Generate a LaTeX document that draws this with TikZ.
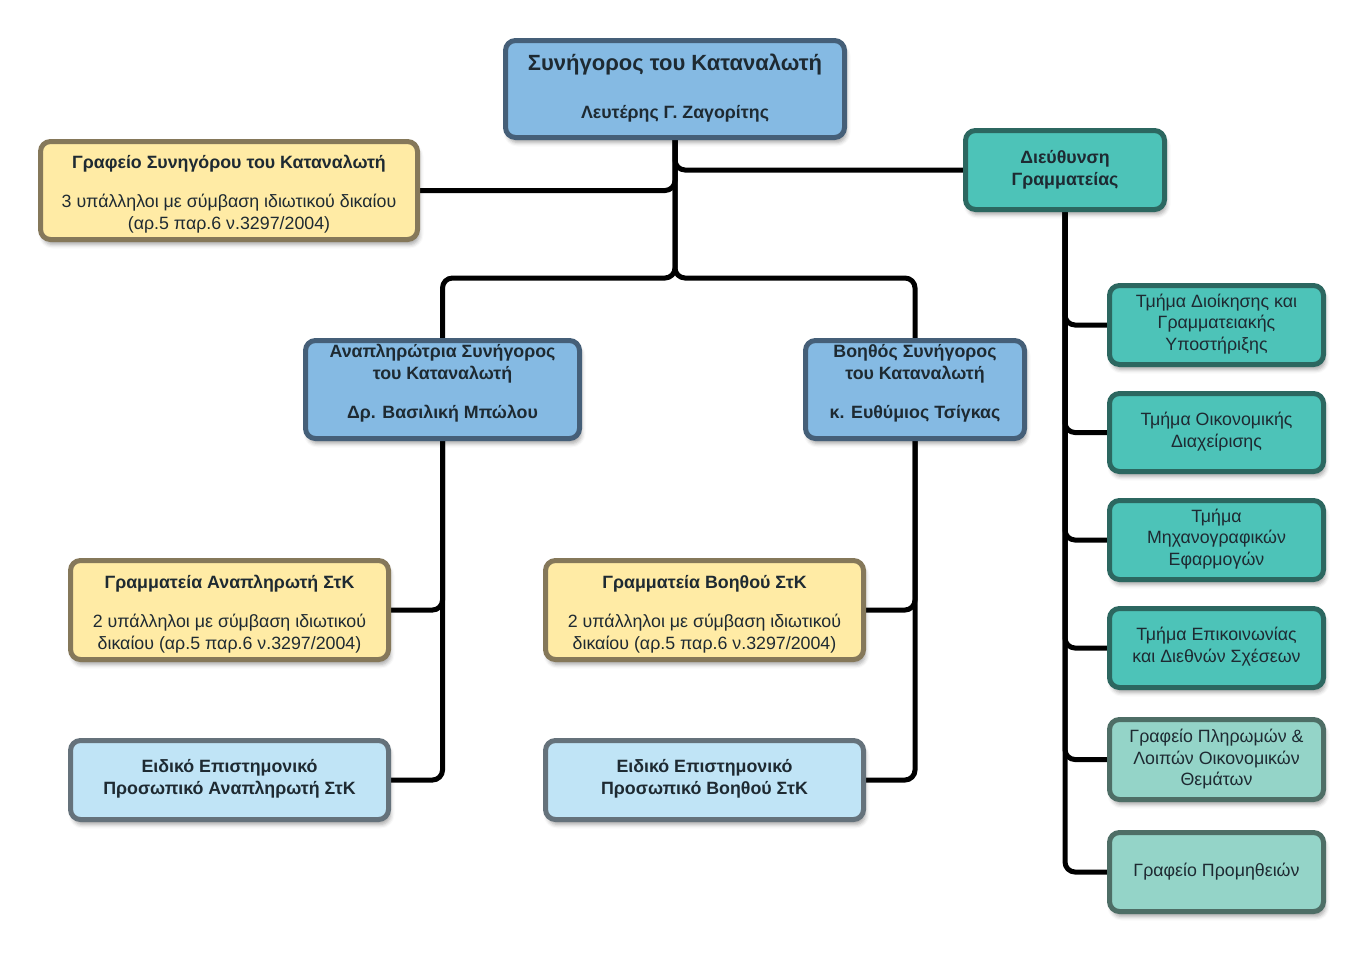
\documentclass[tikz,border=0pt]{standalone}
\usepackage{fontspec}
\setmainfont{Liberation Sans}
\usetikzlibrary{shadows.blur}
\pgfdeclarelayer{bg}
\pgfsetlayers{bg,main}
\definecolor{bluefill}{HTML}{85BAE3}
\definecolor{blueline}{HTML}{455F78}
\definecolor{yelfill}{HTML}{FFEBA5}
\definecolor{yelline}{HTML}{85785A}
\definecolor{tealfill}{HTML}{4DC3B8}
\definecolor{tealline}{HTML}{2C6760}
\definecolor{ltealfill}{HTML}{94D4C8}
\definecolor{ltealline}{HTML}{4E6E66}
\definecolor{lbluefill}{HTML}{C0E4F6}
\definecolor{lblueline}{HTML}{65727B}
\definecolor{txtcol}{HTML}{1E2A32}
\begin{document}
\begin{tikzpicture}[x=1pt,y=-1pt,
  box/.style={line width=5pt, rounded corners=10pt, inner sep=0pt,
    blur shadow={shadow xshift=2pt, shadow yshift=-5pt, shadow blur radius=4pt, shadow opacity=35}},
  bluebox/.style={box, draw=blueline, fill=bluefill},
  yelbox/.style={box, draw=yelline, fill=yelfill},
  tealbox/.style={box, draw=tealline, fill=tealfill},
  ltealbox/.style={box, draw=ltealline, fill=ltealfill},
  lbluebox/.style={box, draw=lblueline, fill=lbluefill},
  txt/.style={align=center, text=txtcol, inner sep=0pt, font=\fontsize{17.8}{21.8}\selectfont},
  btxt/.style={txt, font=\fontsize{17.8}{21.8}\selectfont\bfseries},
  conn/.style={line width=5pt, draw=black, rounded corners=10pt}
]
\useasboundingbox (0,0) rectangle (1365,953);
% boxes
\node[bluebox, minimum width=339pt, minimum height=97pt] (top) at (675,89) {};
\node[yelbox, minimum width=377pt, minimum height=98pt] (graf) at (229,190.5) {};
\node[tealbox, minimum width=199pt, minimum height=79pt] (dieu) at (1065,170) {};
\node[bluebox, minimum width=274pt, minimum height=98pt] (ana) at (442.5,389.5) {};
\node[bluebox, minimum width=219pt, minimum height=98pt] (voi) at (915,389.5) {};
\node[yelbox, minimum width=318pt, minimum height=99pt] (gA) at (229.5,610) {};
\node[yelbox, minimum width=318pt, minimum height=99pt] (gV) at (704.5,610) {};
\node[lbluebox, minimum width=318pt, minimum height=79pt] (eA) at (229.5,780) {};
\node[lbluebox, minimum width=318pt, minimum height=79pt] (eV) at (704.5,780) {};
\node[tealbox, minimum width=214pt, minimum height=79pt] (r1) at (1216.5,325) {};
\node[tealbox, minimum width=214pt, minimum height=78pt] (r2) at (1216.5,432.5) {};
\node[tealbox, minimum width=214pt, minimum height=79pt] (r3) at (1216.5,540) {};
\node[tealbox, minimum width=214pt, minimum height=79pt] (r4) at (1216.5,648) {};
\node[ltealbox, minimum width=214pt, minimum height=80pt] (r5) at (1216.5,759.5) {};
\node[ltealbox, minimum width=214pt, minimum height=79pt] (r6) at (1216.5,872) {};
% texts
\node[txt] (ttop) at (675,88) {\fontsize{22}{26}\selectfont\bfseries Συνήγορος του Καταναλωτή\\[26pt]\fontsize{17.8}{21.8}\selectfont\bfseries Λευτέρης Γ. Ζαγορίτης};
\node[txt] (tgraf) at (229,194) {\bfseries Γραφείο Συνηγόρου του Καταναλωτή\\[17pt]3 υπάλληλοι με σύμβαση ιδιωτικού δικαίου\\(αρ.5 παρ.6 ν.3297/2004)};
\node[btxt] (tdieu) at (1065,169.5) {Διεύθυνση\\Γραμματείας};
\node[btxt] (tana) at (442.5,383) {Αναπληρώτρια Συνήγορος\\του Καταναλωτή\\[17pt]Δρ. Βασιλική Μπώλου};
\node[btxt] (tvoi) at (915,383) {Βοηθός Συνήγορος\\του Καταναλωτή\\[17pt]κ. Ευθύμιος Τσίγκας};
\node[txt] (tgA) at (229.5,614) {\bfseries Γραμματεία Αναπληρωτή ΣτΚ\\[17pt]2 υπάλληλοι με σύμβαση ιδιωτικού\\δικαίου (αρ.5 παρ.6 ν.3297/2004)};
\node[txt] (tgV) at (704.5,614) {\bfseries Γραμματεία Βοηθού ΣτΚ\\[17pt]2 υπάλληλοι με σύμβαση ιδιωτικού\\δικαίου (αρ.5 παρ.6 ν.3297/2004)};
\node[btxt] (teA) at (229.5,779) {Ειδικό Επιστημονικό\\Προσωπικό Αναπληρωτή ΣτΚ};
\node[btxt] (teV) at (704.5,779) {Ειδικό Επιστημονικό\\Προσωπικό Βοηθού ΣτΚ};
\node[txt] (tr1) at (1216.5,324) {Τμήμα Διοίκησης και\\Γραμματειακής\\Υποστήριξης};
\node[txt] (tr2) at (1216.5,431.5) {Τμήμα Οικονομικής\\Διαχείρισης};
\node[txt] (tr3) at (1216.5,539) {Τμήμα\\Μηχανογραφικών\\Εφαρμογών};
\node[txt] (tr4) at (1216.5,646.5) {Τμήμα Επικοινωνίας\\και Διεθνών Σχέσεων};
\node[txt] (tr5) at (1216.5,759) {Γραφείο Πληρωμών \&\\Λοιπών Οικονομικών\\Θεμάτων};
\node[txt] (tr6) at (1216.5,871.5) {Γραφείο Προμηθειών};
% connectors
\begin{pgfonlayer}{bg}
\coordinate (j1) at (675,278);
\draw[conn] (top.south) -- (j1) -| (ana.north);
\draw[conn] (top.south) -- (j1) -| (voi.north);
\draw[conn] (top.south) |- (graf.east);
\draw[conn] (top.south) |- (dieu.west);
\foreach \r in {r1,r2,r3,r4,r5,r6}{\draw[conn] (dieu.south) |- (\r.west);}
\draw[conn] (ana.south) |- (gA.east);
\draw[conn] (ana.south) |- (eA.east);
\draw[conn] (voi.south) |- (gV.east);
\draw[conn] (voi.south) |- (eV.east);
\end{pgfonlayer}
\end{tikzpicture}
\end{document}
